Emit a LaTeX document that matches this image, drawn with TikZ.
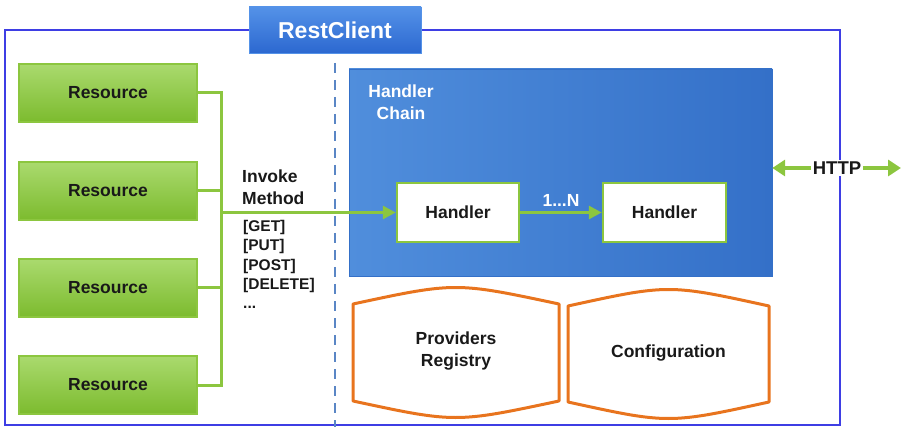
\documentclass[tikz,border=0pt]{standalone}
\usepackage{fontspec}
\setmainfont{Liberation Sans}
\usetikzlibrary{positioning,arrows.meta}
\definecolor{framebl}{RGB}{62,62,228}
\definecolor{titletop}{RGB}{84,146,232}
\definecolor{titlebot}{RGB}{44,104,208}
\definecolor{chainl}{RGB}{80,142,220}
\definecolor{chainr}{RGB}{52,112,200}
\definecolor{restop}{RGB}{170,218,110}
\definecolor{resbot}{RGB}{124,187,46}
\definecolor{wiregr}{RGB}{140,198,63}
\definecolor{dashbl}{RGB}{90,134,197}
\definecolor{storeor}{RGB}{232,116,30}
\definecolor{txt}{RGB}{25,25,25}
\tikzset{
  resource/.style={draw=wiregr, line width=1.5pt, top color=restop, bottom color=resbot,
    minimum width=178pt, minimum height=58pt, text=txt},
  handler/.style={draw=wiregr, line width=2.5pt, fill=white, minimum height=59pt, text=txt},
  wire/.style={draw=wiregr, line width=3pt},
  tip/.style={-{Triangle[length=13pt,width=13pt]}},
  store/.style={draw=storeor, line width=3pt, line join=round},
}

\begin{document}
\begin{tikzpicture}[x=1pt, y=-1pt, font=\bfseries\fontsize{17.5}{22}\selectfont]
\useasboundingbox (0,0) rectangle (901,427);
    % Outer frame and title
\draw[framebl, line width=2pt] (5,30) rectangle (840,425);
\node[top color=titletop, bottom color=titlebot, draw=titletop, minimum width=172pt, minimum height=46pt, text=white, font=\bfseries\fontsize{23}{26}\selectfont] (title) at (335,30) {RestClient};
\draw[dashbl, line width=2pt, dash pattern=on 10pt off 7pt] (335,63) -- (335,427);

    % Resources
\node[resource] (r1) at (108,93) {Resource};
\node[resource, below=38.5pt of r1] (r2) {Resource};
\node[resource, below=37.5pt of r2] (r3) {Resource};
\node[resource, below=37.5pt of r3] (r4) {Resource};

    % Handler chain
\node[top color=chainl, bottom color=chainr, shading angle=90, draw=chainr, minimum width=423pt, minimum height=207pt] (chain) at (560.5,172.5) {};
\node[text=white, align=center] (chainlbl) at (401,102) {Handler\\Chain};
\node[handler, minimum width=122pt] (h1) at (458,212.5) {Handler};
\node[handler, minimum width=123pt, right=81.5pt of h1] (h2) {Handler};

    % Invoke method labels
\coordinate (bus) at (221,212.5);
\node[anchor=south west, align=left, text=txt, inner sep=0pt] (invoke) at (242,205) {Invoke\\Method};
\node[anchor=north west, align=left, text=txt, inner sep=0pt, font=\bfseries\fontsize{15.5}{19.3}\selectfont] (verbs) at (243,220) {[GET]\\\relax[PUT]\\\relax[POST]\\\relax[DELETE]\\...};

    % Connections
\draw[wire] (r1.east) -| (bus);
\draw[wire] (r2.east) -| (bus);
\draw[wire] (r3.east) -| (bus);
\draw[wire] (r4.east) -| (bus);
\draw[wire, tip] (bus) -- (h1.west);
\draw[wire, tip] (h1.east) -- (h2.west) node[midway, above=1pt, text=white] {1...N};

    % HTTP
\node[fill=white, text=txt, inner sep=1.5pt, font=\bfseries\fontsize{18.5}{22}\selectfont] (http) at (837,168) {HTTP};
\coordinate (out) at (901,168);
\draw[wire, line width=3.5pt, -{Triangle[length=13pt,width=16pt]}] (http.west) -- (http.west -| chain.east);
\draw[wire, line width=3.5pt, -{Triangle[length=13pt,width=16pt]}] (http.east) -- (out);

    % Providers and configuration
\draw[store] (353,304) .. controls (455.5,282) .. (559,304) -- (559,401) .. controls (455.5,423) .. (353,401) -- cycle;
\node[text=txt, align=center] (prov) at (456,351) {Providers\\Registry};
\draw[store] (568,306) .. controls (668.5,284) .. (769,306) -- (769,402) .. controls (668.5,424) .. (568,402) -- cycle;
\node[text=txt] (conf) at (668.5,353) {Configuration};
\end{tikzpicture}
\end{document}
